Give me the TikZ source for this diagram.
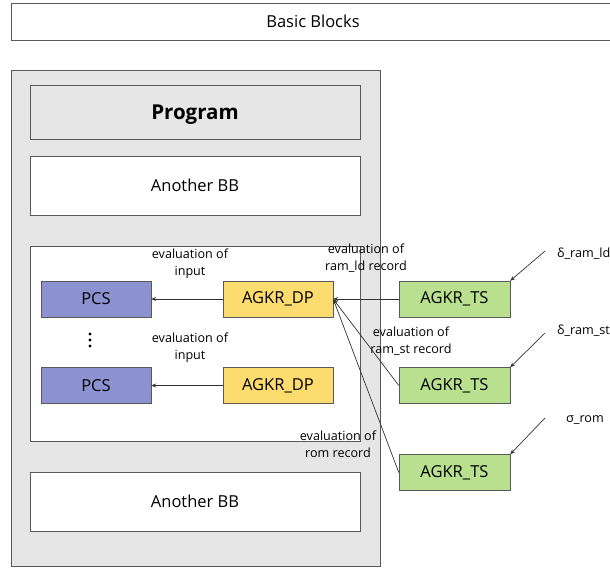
\documentclass[tikz,border=0pt]{standalone}
\usepackage{fontspec}
\setmainfont{Open Sans}
\usetikzlibrary{positioning,arrows.meta}

\definecolor{pcsblue}{RGB}{140,146,208}
\definecolor{dpyellow}{RGB}{252,220,110}
\definecolor{tsgreen}{RGB}{185,224,142}
\definecolor{bbgray}{RGB}{230,230,230}

\tikzset{
    blk/.style={draw=black!65, minimum width=110pt, minimum height=36pt, inner sep=0pt,
        font=\fontsize{16.5}{19}\selectfont},
    bigblk/.style={draw=black!65, minimum width=330pt, minimum height=59pt, inner sep=0pt,
        font=\fontsize{16.5}{19}\selectfont},
    lbl/.style={align=center, inner sep=0pt, font=\fontsize{12.6}{17}\selectfont},
    arr/.style={-{Stealth[length=5pt,width=4pt]}, black!80, line width=0.7pt}
}

\begin{document}
\begin{tikzpicture}[x=1pt,y=-1pt]
    \useasboundingbox (0,0) rectangle (610,568);

    % frames
    \node[draw=black!65, minimum width=604pt, minimum height=37pt, inner sep=0pt,
        font=\fontsize{16.5}{19}\selectfont] (basic) at (313,21.5) {Basic Blocks};
    \node[draw=black!65, fill=bbgray, minimum width=369pt, minimum height=496pt] (outer) at (195.5,318) {};
    \node[bigblk, fill=bbgray, minimum height=54pt, text depth=0pt,
        font=\fontsize{20.5}{24}\selectfont\bfseries] (prog) at (195,112) {Program};
    \node[bigblk, fill=white] (bb1) at (195,185.5) {Another BB};
    \node[draw=black!65, fill=white, minimum width=330pt, minimum height=195pt] (inner) at (195,343.5) {};
    \node[bigblk, fill=white] (bb2) at (195,501.5) {Another BB};

    % blocks
    \node[blk, fill=pcsblue] (pcs1) at (96,299) {PCS};
    \node[blk, fill=dpyellow] (dp1) at (278,299) {AGKR\_DP};
    \node[blk, fill=pcsblue] (pcs2) at (96,385.5) {PCS};
    \node[blk, fill=dpyellow] (dp2) at (278,385.5) {AGKR\_DP};
    \node[blk, fill=tsgreen, minimum width=111pt] (ts1) at (454.5,299) {AGKR\_TS};
    \node[blk, fill=tsgreen, minimum width=111pt] (ts2) at (454.5,385.5) {AGKR\_TS};
    \node[blk, fill=tsgreen, minimum width=111pt] (ts3) at (454.5,472.5) {AGKR\_TS};

    % vertical dots
    \foreach \y in {334,340,346}
        \fill (90,\y) circle (1.6pt);

    % labels
    \node[lbl] (in1) at (190,264) {evaluation of\\input};
    \node[lbl] (in2) at (190,348) {evaluation of\\input};
    \node[lbl] (rld) at (366,258) {evaluation of\\ram\_ld record};
    \node[lbl] (rst) at (411,341) {evaluation of\\ram\_st record};
    \node[lbl] (rrom) at (338,444) {evaluation of\\rom record};

    \node[lbl, anchor=west] (dld) at (557,254) {δ\_ram\_ld};
    \node[lbl, anchor=west] (dst) at (557,331) {δ\_ram\_st};
    \node[lbl, anchor=west] (srom) at (566,420) {σ\_rom};

    % connectors
    \draw[arr] (dp1) -- (pcs1);
    \draw[arr] (dp2) -- (pcs2);
    \draw[arr] (ts1) -- (dp1);
    \draw[arr] (ts2.west) -- (dp1.east);
    \draw[arr] (ts3.west) -- (dp1.east);

    \coordinate (ild) at (545,251);
    \coordinate (ist) at (545,333);
    \coordinate (irom) at (545,418);
    \draw[arr] (ild) -- (ts1.north east);
    \draw[arr] (ist) -- (ts2.north east);
    \draw[arr] (irom) -- (ts3.north east);
\end{tikzpicture}
\end{document}
